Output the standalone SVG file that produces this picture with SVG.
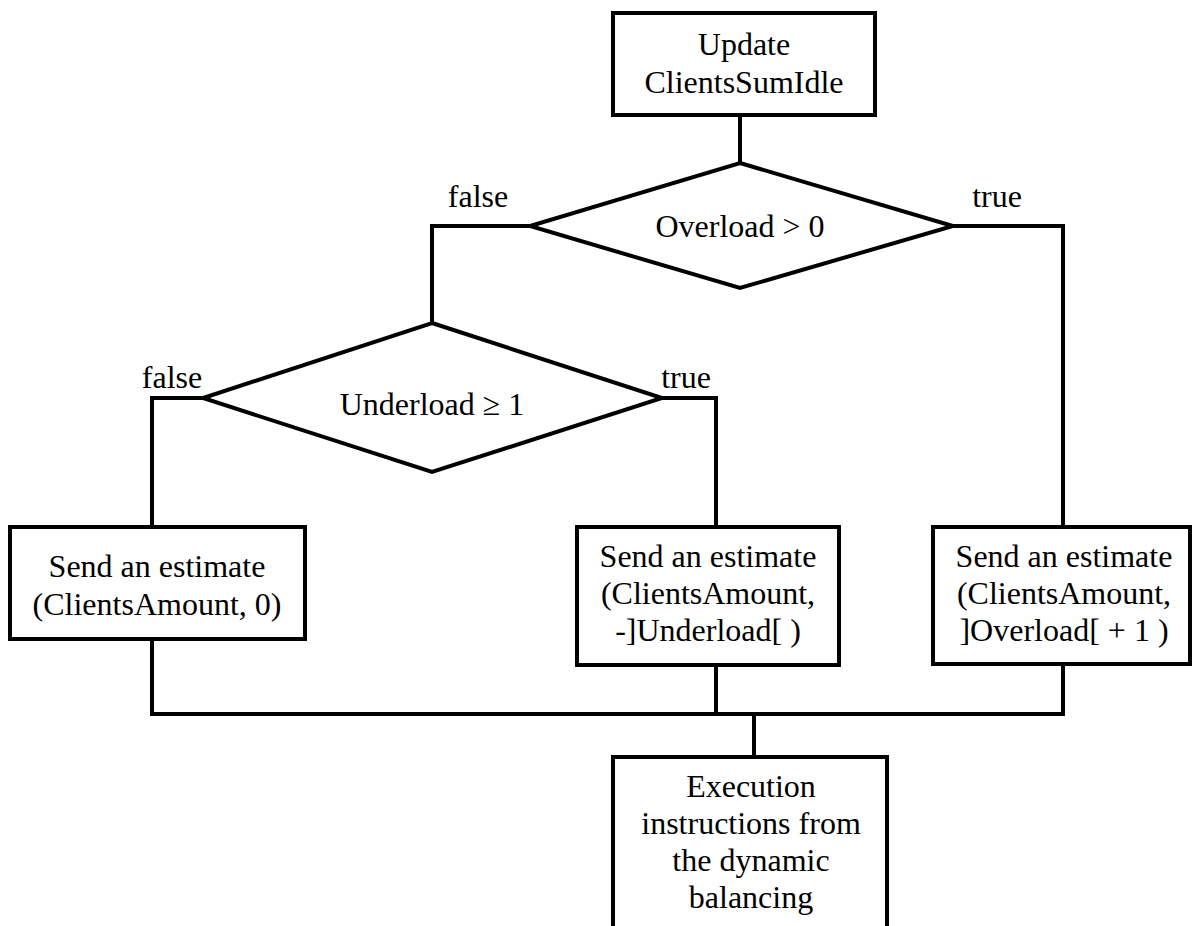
<svg xmlns="http://www.w3.org/2000/svg" width="1192" height="926" viewBox="0 0 1192 926" font-family="'Liberation Serif', 'Times New Roman', serif">
<style>
.box{fill:#fff;stroke:#000;stroke-width:4}
.ln{fill:none;stroke:#000;stroke-width:4}
text{font-family:'Liberation Serif','Times New Roman',serif;font-size:32px;fill:#000;text-anchor:middle}
</style>
<rect width="1192" height="926" fill="#fff"/>
<g id="connectors">
<polyline class="ln" points="740,115 740,163"/>
<polyline class="ln" points="530,226 432,226 432,323"/>
<polyline class="ln" points="953,226 1063,226 1063,527"/>
<polyline class="ln" points="203,398 152,398 152,527"/>
<polyline class="ln" points="662,398 716,398 716,527"/>
<polyline class="ln" points="152,639 152,714 1063,714 1063,664"/>
<polyline class="ln" points="716,665 716,714"/>
<polyline class="ln" points="754,714 754,757"/>
<text x="478" y="207">false</text>
<text x="997" y="207">true</text>
<text x="172" y="388">false</text>
<text x="686" y="388">true</text>
</g>
<g id="n_update">
<rect class="box" x="613" y="13" width="262" height="102"/>
<text x="744" y="55">Update</text>
<text x="744" y="93">ClientsSumIdle</text>
</g>
<g id="n_overload">
<polygon class="box" points="740,163 953,226 740,288 530,226"/>
<text x="740" y="237">Overload &gt; 0</text>
</g>
<g id="n_underload">
<polygon class="box" points="432,323 662,398 432,472 203,398"/>
<text x="432" y="415">Underload ≥ 1</text>
</g>
<g id="n_send0">
<rect class="box" x="10" y="527" width="295" height="112"/>
<text x="157" y="577">Send an estimate</text>
<text x="157" y="615">(ClientsAmount, 0)</text>
</g>
<g id="n_sendunder">
<rect class="box" x="577" y="527" width="262" height="138"/>
<text x="708" y="567">Send an estimate</text>
<text x="708" y="604">(ClientsAmount,</text>
<text x="708" y="641">-]Underload[ )</text>
</g>
<g id="n_sendover">
<rect class="box" x="933" y="527" width="257" height="137"/>
<text x="1064" y="567">Send an estimate</text>
<text x="1064" y="604">(ClientsAmount,</text>
<text x="1064" y="641">]Overload[ + 1 )</text>
</g>
<g id="n_exec">
<rect class="box" x="613" y="757" width="274" height="180"/>
<text x="751" y="797">Execution</text>
<text x="751" y="834">instructions from</text>
<text x="751" y="871">the dynamic</text>
<text x="751" y="908">balancing</text>
</g>
</svg>
